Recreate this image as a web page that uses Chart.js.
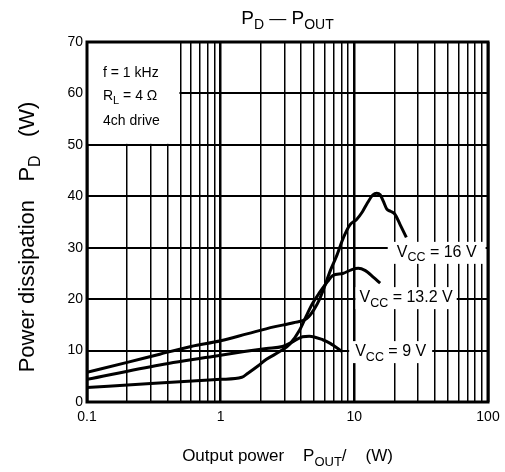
<!DOCTYPE html>
<html>
<head>
<meta charset="utf-8">
<title>PD - POUT</title>
<script src="https://cdn.jsdelivr.net/npm/chart.js@4.4.1/dist/chart.umd.min.js"></script>
<style>
  html, body { margin: 0; padding: 0; background: #fff; }
  #chart { display: block; }
</style>
</head>
<body>
<canvas id="chart" width="505" height="472"></canvas>
<script>
// P_D vs P_OUT, three supply voltages, 4ch drive

const FONT = '"Liberation Sans", Arial, Helvetica, sans-serif';

// x = output power (W), y = power dissipation (W)
const pout16 = [0.1, 0.2, 0.35, 0.6, 1.0, 1.6, 2.5, 3.5, 4.4, 5.0, 5.5, 6.0, 6.6, 7.4, 8.3, 9.3, 10.4, 11.5, 12.4, 13.8, 14.7, 15.6, 16.5, 17.5, 18.6, 20, 22, 24.5];
const pd16   = [5.8, 7.7, 9.3, 10.8, 11.9, 13.3, 14.6, 15.4, 16.2, 18.0, 20.0, 22.5, 25.5, 28.5, 32.0, 34.5, 35.5, 37.0, 38.5, 40.3, 40.6, 40.3, 39.0, 37.5, 37.1, 36.6, 34.5, 32.0];

const pout13 = [0.1, 0.3, 1.0, 1.44, 1.6, 1.9, 2.2, 2.8, 3.3, 3.9, 4.4, 4.9, 5.5, 6.3, 6.9, 8.2, 9.5, 10.7, 12.0, 14.0, 15.6];
const pd13   = [2.8, 3.6, 4.4, 4.8, 5.6, 7.0, 8.3, 9.9, 11.3, 14.0, 16.9, 19.3, 21.3, 23.4, 24.6, 25.0, 25.7, 26.0, 25.6, 24.2, 23.1];

const pout9 = [0.1, 0.35, 1.0, 1.5, 2.2, 2.9, 3.4, 4.1, 4.6, 5.8, 6.6, 8.1];
const pd9   = [4.4, 7.2, 9.1, 9.8, 10.4, 10.8, 11.6, 12.7, 12.8, 12.1, 11.4, 9.8];

const vccNames = ['16', '13.2', '9'];

// axis ticks
const xDecades = [0.1, 1, 10, 100];
const yTicks = [0, 10, 20, 30, 40, 50, 60, 70];

const xGrid = [];
xDecades.slice(0, 3).forEach(d => {
  for (let k = 1; k <= 9; k++) xGrid.push(+(k * d).toPrecision(3));
});
xGrid.push(100);

function toPoints(xs, ys) {
  return xs.map((x, i) => ({ x, y: ys[i] }));
}

// rich text pieces: [text, isSub, fontSize?]
function partFont(part, size) {
  const [, sub, own] = part;
  return (own || (sub ? Math.round(size * 0.72) : size)) + 'px ' + FONT;
}

function richWidth(ctx, parts, size) {
  let w = 0;
  parts.forEach(p => {
    ctx.font = partFont(p, size);
    w += ctx.measureText(p[0]).width;
  });
  return w;
}

function drawRich(ctx, parts, x, y, size, align) {
  const w = richWidth(ctx, parts, size);
  let cx = align === 'center' ? x - w / 2 : x;
  ctx.textBaseline = 'alphabetic';
  ctx.textAlign = 'left';
  parts.forEach(p => {
    ctx.font = partFont(p, size);
    ctx.fillText(p[0], cx, p[1] ? y + size * 0.28 : y);
    cx += ctx.measureText(p[0]).width;
  });
  return w;
}

const vccLabels = [
  { x: 41.3, y: 29.0, padX: 9 },
  { x: 24.4, y: 20.2, padX: 4 },
  { x: 18.7, y: 9.7, padX: 6 },
];

const annotations = {
  id: 'annotations',
  beforeDatasetsDraw(chart) {
    const { ctx, chartArea: a, scales: { x, y } } = chart;
    ctx.save();
    ctx.fillStyle = '#fff';
    // condition box top-left
    ctx.fillRect(a.left, a.top, x.getPixelForValue(0.5) - 1 - a.left, y.getPixelForValue(50) - 1 - a.top);
    ctx.fillStyle = '#000';
    const fs = 14;
    drawRich(ctx, [['f = 1 kHz', false]], a.left + 16, a.top + 35, fs, 'left');
    drawRich(ctx, [['R', false], ['L', true, 11], [' = 4 \u03A9', false]], a.left + 16, a.top + 58, fs, 'left');
    drawRich(ctx, [['4ch drive', false]], a.left + 16, a.top + 83, fs, 'left');

    // supply voltage labels
    vccNames.forEach((name, i) => {
      const lb = vccLabels[i];
      const parts = [['V', false], ['CC', true, 12.5], [' = ' + name + ' V', false]];
      const w = richWidth(ctx, parts, 16);
      const cx = x.getPixelForValue(lb.x);
      const cy = y.getPixelForValue(lb.y);
      ctx.fillStyle = '#fff';
      ctx.fillRect(cx - w / 2 - lb.padX, cy - 11, w + lb.padX * 2, 22);
      ctx.fillStyle = '#000';
      drawRich(ctx, parts, cx, cy + 4, 16, 'center');
    });
    ctx.restore();
  },
  afterDraw(chart) {
    const { ctx, chartArea: a } = chart;
    ctx.save();
    ctx.strokeStyle = '#000';
    ctx.lineWidth = 3;
    ctx.strokeRect(a.left, a.top, a.right - a.left, a.bottom - a.top);

    ctx.fillStyle = '#000';
    // chart title
    drawRich(ctx, [['P', false], ['D', true, 14], [' ', false], ['\u2014', false, 17], [' ', false], ['P', false], ['OUT', true, 14]],
      (a.left + a.right) / 2, 24, 19, 'center');
    // x title
    drawRich(ctx, [['Output power    P', false], ['OUT', true, 13], ['/    (W)', false]],
      (a.left + a.right) / 2, 461, 17, 'center');
    // y title, rotated
    ctx.translate(34, 237);
    ctx.rotate(-Math.PI / 2);
    drawRich(ctx, [['Power dissipation   P', false], ['D', true, 16], ['   (W)', false]], 0, 0, 22, 'center');
    ctx.restore();
  }
};

new Chart(document.getElementById('chart'), {
  type: 'line',
  data: {
    datasets: [
      { label: vccNames[0], data: toPoints(pout16, pd16) },
      { label: vccNames[1], data: toPoints(pout13, pd13) },
      { label: vccNames[2], data: toPoints(pout9, pd9) },
    ].map(d => Object.assign(d, {
      borderColor: '#000',
      borderWidth: 3,
      pointRadius: 0,
      fill: false,
      cubicInterpolationMode: 'monotone',
    }))
  },
  options: {
    responsive: false,
    animation: false,
    devicePixelRatio: 1,
    layout: { padding: { top: 42, right: 17, left: 0, bottom: 0 } },
    plugins: { legend: { display: false }, tooltip: { enabled: false } },
    scales: {
      x: {
        type: 'logarithmic',
        min: 0.1,
        max: 100,
        border: { display: false },
        grid: {
          color: '#000',
          drawTicks: false,
          lineWidth: c => xDecades.includes(c.tick && c.tick.value) ? 2.5 : 1.5,
        },
        afterBuildTicks: s => { s.ticks = xGrid.map(v => ({ value: v })); },
        afterFit: s => { s.height = 70; s.paddingLeft = 0; s.paddingRight = 0; },
        ticks: {
          autoSkip: false,
          maxRotation: 0,
          padding: 7,
          color: '#000',
          font: { family: FONT, size: 14 },
          callback: v => xDecades.includes(v) ? String(v) : '',
        },
      },
      y: {
        min: 0,
        max: 70,
        border: { display: false },
        grid: { color: '#000', drawTicks: false, lineWidth: 2 },
        afterBuildTicks: s => { s.ticks = yTicks.map(v => ({ value: v })); },
        afterFit: s => { s.width = 87; s.paddingTop = 0; s.paddingBottom = 0; },
        ticks: {
          padding: 4,
          color: '#000',
          font: { family: FONT, size: 14 },
        },
      },
    },
  },
  plugins: [annotations],
});
</script>
</body>
</html>
